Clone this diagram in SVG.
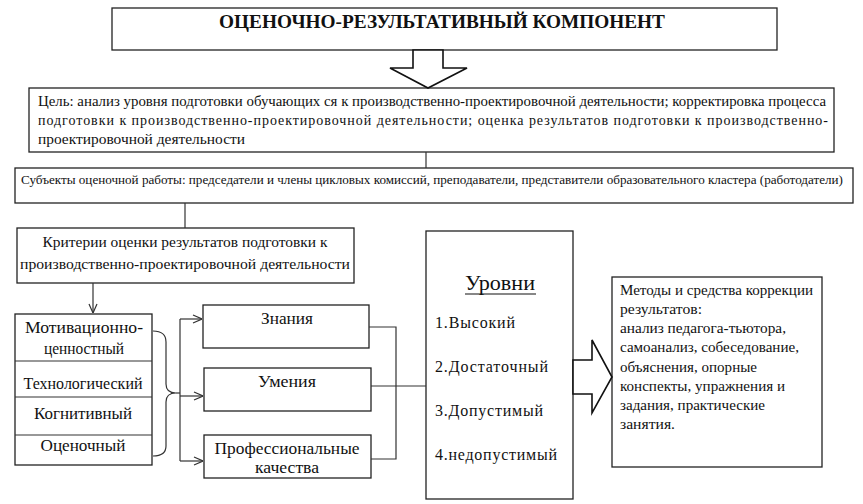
<svg xmlns="http://www.w3.org/2000/svg" width="863" height="504" viewBox="0 0 863 504" font-family="'Liberation Serif', 'DejaVu Serif', serif">
<style>
.box{fill:#fff;stroke:#222;stroke-width:1.3}
.ln{fill:none;stroke:#333;stroke-width:1.2}
.big{fill:#fff;stroke:#111;stroke-width:1.6}
text{font-family:'Liberation Serif','DejaVu Serif',serif;fill:#111}
.t14{font-size:14px}
.t16{font-size:16px}
.c{text-anchor:middle}
</style>
<defs>
<marker id="v" viewBox="0 0 10 10" refX="10" refY="5" markerWidth="10" markerHeight="10" markerUnits="userSpaceOnUse" orient="auto">
<path d="M1,1 L10,5 L1,9" fill="none" stroke="#333" stroke-width="1.2"/>
</marker>
</defs>
<rect width="863" height="504" fill="#fff"/>

<g id="title">
<rect class="box" x="112" y="8" width="665" height="42"/>
<text x="442" y="28" class="c" style="font-size:18px;font-weight:bold" textLength="446" lengthAdjust="spacingAndGlyphs">ОЦЕНОЧНО-РЕЗУЛЬТАТИВНЫЙ КОМПОНЕНТ</text>
</g>

<g id="goal">
<rect class="box" x="29" y="88" width="805" height="64"/>
<text x="38" y="106" class="t14" textLength="788" lengthAdjust="spacingAndGlyphs">Цель: анализ уровня подготовки обучающих ся к производственно-проектировочной деятельности; корректировка процесса</text>
<text x="38" y="125" class="t14" textLength="790" lengthAdjust="spacing">подготовки к производственно-проектировочной деятельности; оценка результатов подготовки к производственно-</text>
<text x="38" y="144" class="t14" textLength="207" lengthAdjust="spacingAndGlyphs">проектировочной деятельности</text>
</g>

<g id="subjects">
<rect class="box" x="15" y="168" width="838" height="35"/>
<text x="21" y="184" style="font-size:12px" textLength="822" lengthAdjust="spacingAndGlyphs">Субъекты оценочной работы: председатели и члены цикловых комиссий, преподаватели, представители образовательного кластера (работодатели)</text>
</g>

<g id="criteria">
<rect class="box" x="17" y="228" width="337" height="55"/>
<text x="185" y="247" class="c" style="font-size:15px" textLength="285" lengthAdjust="spacingAndGlyphs">Критерии оценки результатов подготовки к</text>
<text x="185" y="269" class="c" style="font-size:15px" textLength="330" lengthAdjust="spacingAndGlyphs">производственно-проектировочной деятельности</text>
</g>

<g id="components">
<rect class="box" x="15" y="314" width="137" height="151"/>
<line class="ln" x1="15" y1="361" x2="152" y2="361"/>
<line class="ln" x1="15" y1="397" x2="152" y2="397"/>
<line class="ln" x1="15" y1="435" x2="152" y2="435"/>
<text x="84" y="333" class="c t16" textLength="118" lengthAdjust="spacingAndGlyphs">Мотивационно-</text>
<text x="84" y="354" class="c t16" textLength="80" lengthAdjust="spacingAndGlyphs">ценностный</text>
<text x="83" y="389" class="c t16" textLength="119" lengthAdjust="spacingAndGlyphs">Технологический</text>
<text x="83" y="419" class="c t16" textLength="98" lengthAdjust="spacingAndGlyphs">Когнитивный</text>
<text x="83" y="451" class="c t16" textLength="85" lengthAdjust="spacingAndGlyphs">Оценочный</text>
</g>

<g id="knowledge">
<rect class="box" x="203" y="305" width="166" height="43"/>
<text x="287" y="324" class="c t16" textLength="52" lengthAdjust="spacingAndGlyphs">Знания</text>
</g>

<g id="skills">
<rect class="box" x="204" y="368" width="167" height="43"/>
<text x="287" y="387" class="c t16" textLength="58" lengthAdjust="spacingAndGlyphs">Умения</text>
</g>

<g id="qualities">
<rect class="box" x="204" y="435" width="167" height="43"/>
<text x="287" y="454" class="c t16" textLength="145" lengthAdjust="spacingAndGlyphs">Профессиональные</text>
<text x="287" y="473" class="c t16" textLength="64" lengthAdjust="spacingAndGlyphs">качества</text>
</g>

<g id="levels">
<rect class="box" x="426" y="231" width="147" height="268"/>
<text x="500" y="290" class="c" style="font-size:22px" textLength="70" lengthAdjust="spacingAndGlyphs">Уровни</text>
<line x1="465" y1="294" x2="536" y2="294" stroke="#111" stroke-width="1.2"/>
<text x="435" y="328" class="t16" textLength="80" lengthAdjust="spacing">1.Высокий</text>
<text x="435" y="372" class="t16" textLength="113" lengthAdjust="spacing">2.Достаточный</text>
<text x="435" y="416" class="t16" textLength="108" lengthAdjust="spacing">3.Допустимый</text>
<text x="435" y="460" class="t16" textLength="122" lengthAdjust="spacing">4.недопустимый</text>
</g>

<g id="methods">
<rect class="box" x="612" y="277" width="210" height="190"/>
<g class="t14">
<text x="620" y="295" textLength="193" lengthAdjust="spacingAndGlyphs">Методы и средства коррекции</text>
<text x="620" y="314" textLength="82" lengthAdjust="spacingAndGlyphs">результатов:</text>
<text x="620" y="333" textLength="166" lengthAdjust="spacingAndGlyphs">анализ педагога-тьютора,</text>
<text x="620" y="352" textLength="179" lengthAdjust="spacingAndGlyphs">самоанализ, собеседование,</text>
<text x="620" y="372" textLength="137" lengthAdjust="spacingAndGlyphs">объяснения, опорные</text>
<text x="620" y="391" textLength="165" lengthAdjust="spacingAndGlyphs">конспекты, упражнения и</text>
<text x="620" y="410" textLength="145" lengthAdjust="spacingAndGlyphs">задания, практические</text>
<text x="620" y="429" textLength="55" lengthAdjust="spacingAndGlyphs">занятия.</text>
</g>
</g>

<g id="connectors">
<path class="big" d="M413,50 L443,50 L443,68 L467,68 L428,88 L390,68 L413,68 Z"/>
<line class="ln" x1="426" y1="152" x2="426" y2="168"/>
<line class="ln" x1="185" y1="203" x2="185" y2="228"/>
<line class="ln" x1="93" y1="283" x2="93" y2="313" marker-end="url(#v)"/>
<path class="ln" d="M153,331 Q166,331 166,342 L166,384 Q166,393 176,393 Q166,393 166,402 L166,446 Q166,456 153,456"/>
<line class="ln" x1="176" y1="393" x2="180" y2="393"/>
<path class="ln" d="M180,319 L180,461"/>
<line class="ln" x1="180" y1="319" x2="202" y2="319" marker-end="url(#v)"/>
<line class="ln" x1="180" y1="396" x2="203" y2="396" marker-end="url(#v)"/>
<line class="ln" x1="180" y1="461" x2="203" y2="461" marker-end="url(#v)"/>
<path class="ln" d="M369,327 L396,327 L396,459 L371,459"/>
<line class="ln" x1="371" y1="386" x2="426" y2="386"/>
<path class="big" d="M573,360 L592,360 L592,340 L612,377 L592,413 L592,394 L573,394 Z"/>
</g>
</svg>
